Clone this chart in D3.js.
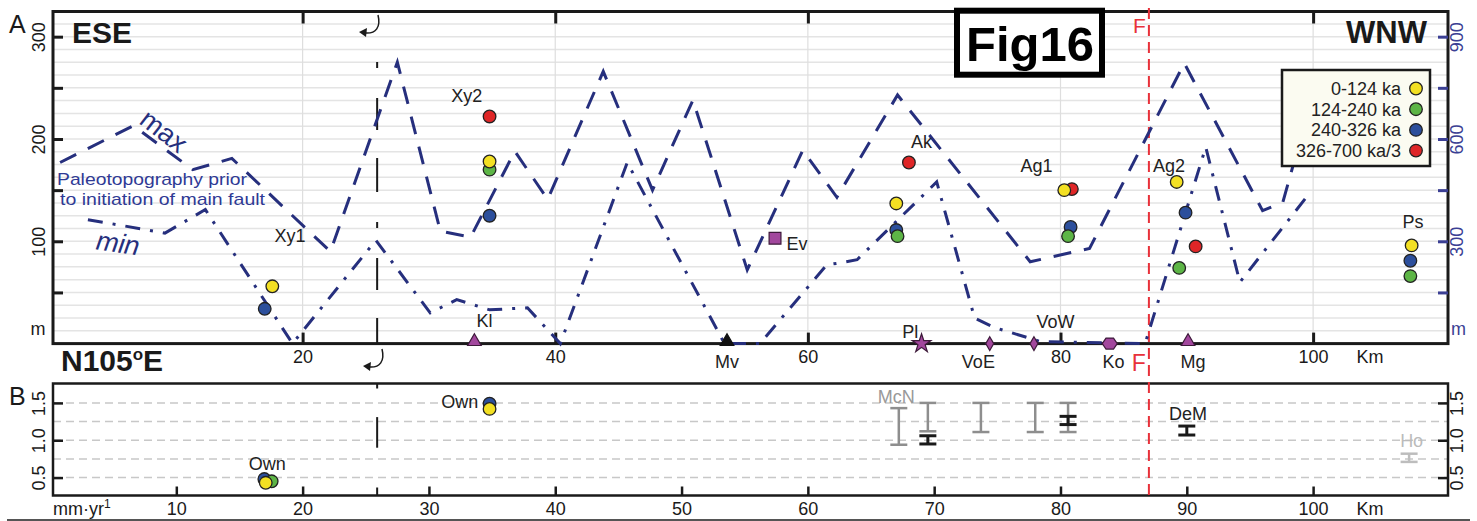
<!DOCTYPE html>
<html>
<head>
<meta charset="utf-8">
<script src="https://cdn.jsdelivr.net/npm/d3@7"></script>
<style>
  body { margin: 0; background: #fff; }
  text { font-family: "Liberation Sans", Arial, Helvetica, sans-serif; }
</style>
</head>
<body>
<div id="chart"></div>
<script>
// ---- data ----
// paleotopography envelopes (km along profile, elevation m)
var maxKm = [0.8, 6.6, 11.3, 14.4, 22.2, 27.5, 30.9, 33.3, 36.8, 39.4, 43.8, 47.7, 50.9, 55.2, 59.6, 62.3, 67.1, 77.6, 82.3, 89.8, 96.0, 97.6, 99.2];
var maxM  = [177, 213, 170, 181, 90, 275, 110, 104, 188, 141, 266, 150, 238, 72, 189, 143, 243, 80, 93, 274, 130, 138, 209];
var minKm = [3.0, 4.5, 9.1, 12.3, 19.2, 25.8, 30.1, 32.2, 34.8, 37.8, 40.4, 45.7, 53.4, 56.2, 61.5, 62.6, 63.9, 70.2, 73.2, 74.7, 78.4, 86.7, 91.5, 94.2, 99.4];
var minM  = [121, 118, 108, 131, 0, 101, 30, 43, 33, 35, 0, 177, 0, 0, 77, 79, 82, 158, 25, 16, 2, 0, 192, 60, 142];

// uplift of terraces (panel A)
var ageLabels = ["0-124 ka", "124-240 ka", "240-326 ka", "326-700 ka/3"];
var upliftKm  = [17.6, 17.0, 34.8, 34.8, 34.8, 34.8, 68.0, 67.0, 67.0, 67.1, 80.3, 80.9, 80.8, 80.6, 89.2, 89.9, 90.7, 89.4, 107.8, 107.7, 107.7];
var upliftM   = [56, 34, 222, 178, 170, 125, 177, 137, 111, 105, 150, 151, 114, 105, 158, 128, 95, 74, 96, 81, 66];
var upliftAge = [0, 2, 3, 0, 1, 2, 3, 0, 2, 1, 0, 3, 2, 1, 0, 2, 3, 1, 0, 2, 1];
var siteLabels = [["Xy1", 19.0, 99], ["Xy2", 33.0, 236], ["Ak", 69.0, 191], ["Ag1", 78.1, 168], ["Ag2", 88.6, 168], ["Ps", 107.9, 113]];

// localities on the profile
var locNames  = ["Kl", "Mv", "Pl", "VoE", "VoW", "Ko", "Mg", "Ev"];
var locKm     = [33.6, 53.6, 69.0, 74.4, 77.9, 83.9, 90.1, 57.4];
var locM      = [0, 0, 0, 0, 0, 0, 0, 103];
var locShape  = ["triangle", "triangle", "star", "diamond", "diamond", "hexagon", "triangle", "square"];
var locLabels = [["Kl", 34.4, 16], ["Mv", 53.6, -24], ["Pl", 68.1, 5], ["VoE", 73.5, -24], ["VoW", 79.6, 15], ["Ko", 84.2, -24], ["Mg", 90.5, -24]];

// slip rates (panel B, mm/yr)
var rateKm  = [16.97, 17.55, 17.08, 34.8, 34.8];
var rateVal = [0.48, 0.45, 0.43, 1.49, 1.42];
var rateAge = [2, 1, 0, 2, 0];
var barKm   = [67.2, 69.5, 69.5, 73.7, 78.0, 80.6, 80.6, 90.0, 107.6];
var barLo   = [0.94, 1.12, 0.95, 1.11, 1.11, 1.11, 1.21, 1.07, 0.71];
var barHi   = [1.43, 1.50, 1.06, 1.50, 1.50, 1.50, 1.32, 1.19, 0.82];
var barKind = ["McN", "McN", "own", "McN", "McN", "McN", "own", "DeM", "Ho"];
var rateLabels = [["Own", 17.2, 0.60, "middle", "#222"], ["Own", 33.9, 1.43, "end", "#222"], ["McN", 67.0, 1.50, "middle", "#999"], ["DeM", 90.1, 1.27, "middle", "#222"], ["Ho", 107.8, 0.91, "middle", "#bbb"]];

var faultKm = 87.0;
var hingeKm = 25.9;

// ---- setup ----
var W = 1477, H = 521;
var ageColors = ["#f3e023", "#5db546", "#2c4f9c", "#df2627"];
var navy = "#262f7d", axisBlue = "#3b3f94", magenta = "#a2479d";

var A = {left: 53, right: 1448, top: 11.5, bottom: 343.6};
var B = {top: 383.5, bottom: 495.5};

var svg = d3.select("#chart").append("svg")
    .attr("width", W)
    .attr("height", H);

var x  = d3.scaleLinear().domain([0, 110.6]).range([50, 1447]);
var yA = d3.scaleLinear().domain([0, 324.6]).range([A.bottom, A.top]);
var yR = d3.scaleLinear().domain([0, 324.6 * 3]).range([A.bottom, A.top]);
var yB = d3.scaleLinear().domain([0.26, 1.76]).range([B.bottom, B.top]);

// --- grid panel A ---
var grid = svg.append("g");
grid.selectAll(".hg").data(d3.range(12.5, 324, 12.5)).enter().append("line")
    .attr("x1", A.left).attr("x2", A.right)
    .attr("y1", d => yA(d)).attr("y2", d => yA(d))
    .attr("stroke", "#e4e4e4").attr("stroke-width", 1.5);
grid.selectAll(".vg").data([20, 40, 60, 80, 100]).enter().append("line")
    .attr("x1", d => x(d)).attr("x2", d => x(d))
    .attr("y1", A.top).attr("y2", A.bottom)
    .attr("stroke", "#dedede").attr("stroke-width", 1.2);

// --- grid panel B ---
grid.selectAll(".bg").data([0.5, 0.75, 1.0, 1.25, 1.5]).enter().append("line")
    .attr("x1", A.left).attr("x2", A.right)
    .attr("y1", d => yB(d)).attr("y2", d => yB(d))
    .attr("stroke", "#c8c8c8").attr("stroke-width", 1.5)
    .attr("stroke-dasharray", "8,5");

// --- frames ---
svg.append("rect").attr("x", A.left).attr("y", A.top)
    .attr("width", A.right - A.left).attr("height", A.bottom - A.top)
    .attr("fill", "none").attr("stroke", "#1a1a1a").attr("stroke-width", 3);
svg.append("rect").attr("x", A.left).attr("y", B.top)
    .attr("width", A.right - A.left).attr("height", B.bottom - B.top)
    .attr("fill", "none").attr("stroke", "#1a1a1a").attr("stroke-width", 2.5);

// --- axes ---
function styleAxis(g, color, w) {
    g.select(".domain").remove();
    g.selectAll("line").attr("stroke", color).attr("stroke-width", w);
    g.selectAll("text").attr("fill", color).attr("font-size", 18)
        .attr("font-family", "Liberation Sans, Arial, sans-serif");
}

var axTop = svg.append("g").attr("transform", "translate(0," + A.top + ")")
    .call(d3.axisTop(x).tickValues([20, 40, 60, 80, 100]).tickSizeInner(-12).tickSizeOuter(0).tickFormat(""));
styleAxis(axTop, "#1a1a1a", 3);

var axBot = svg.append("g").attr("transform", "translate(0," + A.bottom + ")")
    .call(d3.axisBottom(x).tickValues([20, 40, 60, 80, 100]).tickSizeInner(-11).tickSizeOuter(0));
styleAxis(axBot, "#1a1a1a", 3);
axBot.selectAll("text").attr("y", 19).attr("dy", 0);

var axLeft = svg.append("g").attr("transform", "translate(" + A.left + ",0)")
    .call(d3.axisLeft(yA).tickValues([50, 100, 150, 200, 250, 300]).tickSizeInner(-10).tickSizeOuter(0)
        .tickFormat(d => d % 100 === 0 ? d : ""));
styleAxis(axLeft, "#1a1a1a", 3);
axLeft.selectAll("text").attr("x", 0).attr("y", -8).attr("dy", 0)
    .attr("text-anchor", "middle").attr("transform", "rotate(-90)");

var axRight = svg.append("g").attr("transform", "translate(" + A.right + ",0)")
    .call(d3.axisRight(yR).tickValues([150, 300, 450, 600, 750, 900]).tickSizeInner(-10).tickSizeOuter(0)
        .tickFormat(d => d % 300 === 0 ? d : ""));
styleAxis(axRight, axisBlue, 3);
axRight.selectAll("text").attr("x", 0).attr("y", 15).attr("dy", 0)
    .attr("text-anchor", "middle").attr("transform", "rotate(-90)");

svg.append("text").attr("x", 38).attr("y", 335).attr("text-anchor", "middle")
    .attr("font-size", 18).attr("fill", "#1a1a1a").text("m");
svg.append("text").attr("x", 1451).attr("y", 335)
    .attr("font-size", 18).attr("fill", axisBlue).text("m");
svg.append("text").attr("x", x(104.5)).attr("y", A.bottom + 19).attr("text-anchor", "middle")
    .attr("font-size", 18).attr("fill", "#1a1a1a").text("Km");

// panel B axes
var bBot = svg.append("g").attr("transform", "translate(0," + B.bottom + ")")
    .call(d3.axisBottom(x).tickValues(d3.range(10, 101, 10)).tickSizeInner(-9).tickSizeOuter(0));
styleAxis(bBot, "#1a1a1a", 2.5);
bBot.selectAll("text").attr("y", 19.5).attr("dy", 0);

var bLeft = svg.append("g").attr("transform", "translate(" + A.left + ",0)")
    .call(d3.axisLeft(yB).tickValues([0.5, 1.0, 1.5]).tickSizeInner(-10).tickSizeOuter(0).tickFormat(d3.format(".1f")));
styleAxis(bLeft, "#1a1a1a", 2.5);
bLeft.selectAll("text").attr("x", 0).attr("y", -8).attr("dy", 0)
    .attr("text-anchor", "middle").attr("transform", "rotate(-90)");

var bRight = svg.append("g").attr("transform", "translate(" + A.right + ",0)")
    .call(d3.axisRight(yB).tickValues([0.5, 1.0, 1.5]).tickSizeInner(-10).tickSizeOuter(0).tickFormat(d3.format(".1f")));
styleAxis(bRight, "#1a1a1a", 2.5);
bRight.selectAll("text").attr("x", 0).attr("y", 15).attr("dy", 0)
    .attr("text-anchor", "middle").attr("transform", "rotate(-90)");

var mm = svg.append("text").attr("x", 53).attr("y", 515).attr("font-size", 18).attr("fill", "#1a1a1a");
mm.append("tspan").text("mm\u00b7yr");
mm.append("tspan").attr("dy", -7).attr("font-size", 12).text("1");
svg.append("text").attr("x", x(104.5)).attr("y", 515).attr("text-anchor", "middle")
    .attr("font-size", 18).attr("fill", "#1a1a1a").text("Km");

// --- hinge line (26 km) ---
svg.append("line").attr("x1", x(hingeKm)).attr("x2", x(hingeKm))
    .attr("y1", 62).attr("y2", A.bottom)
    .attr("stroke", "#1a1a1a").attr("stroke-width", 2)
    .attr("stroke-dasharray", "6,30,32,28,34,30");
svg.append("line").attr("x1", x(hingeKm)).attr("x2", x(hingeKm))
    .attr("y1", yB(1.31)).attr("y2", yB(0.9))
    .attr("stroke", "#1a1a1a").attr("stroke-width", 2);
svg.append("line").attr("x1", x(hingeKm)).attr("x2", x(hingeKm))
    .attr("y1", B.top).attr("y2", B.top + 5)
    .attr("stroke", "#1a1a1a").attr("stroke-width", 2);
svg.append("line").attr("x1", x(hingeKm)).attr("x2", x(hingeKm))
    .attr("y1", B.bottom - 8).attr("y2", B.bottom)
    .attr("stroke", "#1a1a1a").attr("stroke-width", 2);

function curlArrow(x0, y0) {
    svg.append("path")
        .attr("d", "M" + x0 + "," + y0 + " C" + (x0 + 3) + "," + (y0 + 12) + " " + (x0 - 2) + "," + (y0 + 19) + " " + (x0 - 13) + "," + (y0 + 18))
        .attr("fill", "none").attr("stroke", "#1a1a1a").attr("stroke-width", 1.5);
    svg.append("path")
        .attr("d", "M" + (x0 - 19) + "," + (y0 + 17) + " L" + (x0 - 11) + "," + (y0 + 13) + " L" + (x0 - 12) + "," + (y0 + 22) + " Z")
        .attr("fill", "#1a1a1a");
}
curlArrow(378, 15);
curlArrow(382, 349);

// --- fault line F ---
svg.append("line").attr("x1", x(faultKm)).attr("x2", x(faultKm))
    .attr("y1", 8).attr("y2", B.bottom)
    .attr("stroke", "#e8313a").attr("stroke-width", 2).attr("stroke-dasharray", "11,6");
svg.append("text").attr("x", x(faultKm) - 3).attr("y", 33).attr("text-anchor", "end")
    .attr("font-size", 21).attr("fill", "#e8313a").text("F");
svg.append("text").attr("x", x(faultKm) - 3).attr("y", 371).attr("text-anchor", "end")
    .attr("font-size", 23).attr("fill", "#e8313a").text("F");

// --- paleotopography envelopes ---
var line = d3.line().x(d => x(d[0])).y(d => yA(d[1]));
svg.append("path").datum(d3.zip(maxKm, maxM))
    .attr("d", line).attr("fill", "none").attr("stroke", navy)
    .attr("stroke-width", 3).attr("stroke-dasharray", "18,13");
svg.append("path").datum(d3.zip(minKm, minM))
    .attr("d", line).attr("fill", "none").attr("stroke", navy)
    .attr("stroke-width", 3).attr("stroke-dasharray", "15,10,3,10");

svg.append("text").attr("transform", "translate(164,131) rotate(38)")
    .attr("text-anchor", "middle").attr("dy", "0.35em")
    .attr("font-size", 27).attr("fill", navy).text("max");
svg.append("text").attr("transform", "translate(118,243) rotate(8)")
    .attr("text-anchor", "middle").attr("dy", "0.35em").attr("font-style", "italic")
    .attr("font-size", 27).attr("fill", navy).text("min");
svg.append("text").attr("x", 57).attr("y", 185)
    .attr("font-size", 17).attr("textLength", 190).attr("lengthAdjust", "spacingAndGlyphs")
    .attr("fill", "#2f3a95").text("Paleotopography prior");
svg.append("text").attr("x", 60).attr("y", 205)
    .attr("font-size", 17).attr("textLength", 205).attr("lengthAdjust", "spacingAndGlyphs")
    .attr("fill", "#2f3a95").text("to initiation of main fault");

// --- locality markers ---
function hexPath(r) {
    return d3.range(6).map(function(i) {
        var a = i * Math.PI / 3;
        return (i ? "L" : "M") + (r * Math.cos(a)).toFixed(2) + "," + (r * Math.sin(a) * 0.85).toFixed(2);
    }).join("") + "Z";
}
var symMap = {
    triangle: d3.symbol().type(d3.symbolTriangle).size(80)(),
    star: d3.symbol().type(d3.symbolStar).size(110)(),
    diamond: d3.symbol().type(d3.symbolDiamond).size(55)(),
    square: d3.symbol().type(d3.symbolSquare).size(140)(),
    hexagon: hexPath(7.5)
};
svg.selectAll(".loc").data(d3.range(locNames.length)).enter().append("path")
    .attr("transform", i => "translate(" + x(locKm[i]) + "," + (yA(locM[i]) - (locShape[i] === "triangle" ? 2 : 0)) + ")")
    .attr("d", i => symMap[locShape[i]])
    .attr("fill", i => locNames[i] === "Mv" ? "#111" : magenta)
    .attr("stroke", i => locNames[i] === "Mv" ? "#111" : "#3d1a3a")
    .attr("stroke-width", 1.2);

svg.selectAll(".locl").data(locLabels).enter().append("text")
    .attr("x", d => x(d[1])).attr("y", d => yA(d[2]))
    .attr("text-anchor", "middle").attr("font-size", 18).attr("fill", "#222")
    .text(d => d[0]);
svg.append("text").attr("x", x(58.3)).attr("y", yA(91))
    .attr("font-size", 18).attr("fill", "#222").text("Ev");

// --- terrace uplift points ---
var order = d3.range(upliftKm.length).sort((a, b) => upliftAge[b] - upliftAge[a]);
svg.selectAll(".up").data(order).enter().append("circle")
    .attr("cx", i => x(upliftKm[i])).attr("cy", i => yA(upliftM[i]))
    .attr("r", 6.3)
    .attr("fill", i => ageColors[upliftAge[i]])
    .attr("stroke", "#222").attr("stroke-width", 1.3);
svg.selectAll(".sl").data(siteLabels).enter().append("text")
    .attr("x", d => x(d[1])).attr("y", d => yA(d[2]))
    .attr("text-anchor", "middle").attr("font-size", 18).attr("fill", "#222")
    .text(d => d[0]);

// --- panel B: error bars ---
var barColor = {McN: "#8e8e8e", own: "#1a1a1a", DeM: "#1a1a1a", Ho: "#bdbdbd"};
var barW = {McN: 2.5, own: 3, DeM: 3, Ho: 2.5};
var bars = svg.selectAll(".eb").data(d3.range(barKm.length)).enter().append("g");
bars.append("line")
    .attr("x1", i => x(barKm[i])).attr("x2", i => x(barKm[i]))
    .attr("y1", i => yB(barLo[i])).attr("y2", i => yB(barHi[i]))
    .attr("stroke", i => barColor[barKind[i]]).attr("stroke-width", i => barW[barKind[i]]);
bars.append("line")
    .attr("x1", i => x(barKm[i]) - 8.5).attr("x2", i => x(barKm[i]) + 8.5)
    .attr("y1", i => yB(barLo[i])).attr("y2", i => yB(barLo[i]))
    .attr("stroke", i => barColor[barKind[i]]).attr("stroke-width", i => barW[barKind[i]]);
bars.append("line")
    .attr("x1", i => x(barKm[i]) - 8.5).attr("x2", i => x(barKm[i]) + 8.5)
    .attr("y1", i => yB(barHi[i])).attr("y2", i => yB(barHi[i]))
    .attr("stroke", i => barColor[barKind[i]]).attr("stroke-width", i => barW[barKind[i]]);

var rOrder = d3.range(rateKm.length).sort((a, b) => rateAge[b] - rateAge[a]);
svg.selectAll(".rp").data(rOrder).enter().append("circle")
    .attr("cx", i => x(rateKm[i])).attr("cy", i => yB(rateVal[i]))
    .attr("r", 6.3)
    .attr("fill", i => ageColors[rateAge[i]])
    .attr("stroke", "#222").attr("stroke-width", 1.3);
svg.selectAll(".rl").data(rateLabels).enter().append("text")
    .attr("x", d => x(d[1])).attr("y", d => yB(d[2]))
    .attr("text-anchor", d => d[3]).attr("font-size", 18).attr("fill", d => d[4])
    .text(d => d[0]);

// --- legend ---
var lg = svg.append("g");
lg.append("rect").attr("x", 1282).attr("y", 70).attr("width", 148).attr("height", 96)
    .attr("fill", "#fbfbf1").attr("stroke", "#1a1a1a").attr("stroke-width", 2.5);
ageLabels.forEach(function(lab, i) {
    var yy = 88.5 + i * 20.7;
    lg.append("text").attr("x", 1401).attr("y", yy).attr("dy", "0.35em")
        .attr("text-anchor", "end").attr("font-size", 18).attr("fill", "#222").text(lab);
    lg.append("circle").attr("cx", 1416).attr("cy", yy).attr("r", 6.3)
        .attr("fill", ageColors[i]).attr("stroke", "#222").attr("stroke-width", 1.3);
});

// --- titles ---
svg.append("text").attr("x", 9).attr("y", 33).attr("font-size", 25).attr("fill", "#1a1a1a").text("A");
svg.append("text").attr("x", 9).attr("y", 405).attr("font-size", 25).attr("fill", "#1a1a1a").text("B");
svg.append("text").attr("x", 72).attr("y", 43).attr("font-size", 30).attr("font-weight", "bold")
    .attr("fill", "#1a1a1a").text("ESE");
svg.append("text").attr("x", 1427).attr("y", 43).attr("font-size", 31).attr("font-weight", "bold")
    .attr("text-anchor", "end").attr("fill", "#1a1a1a").text("WNW");
var nt = svg.append("text").attr("x", 61).attr("y", 371).attr("font-size", 30).attr("font-weight", "bold")
    .attr("fill", "#1a1a1a");
nt.append("tspan").text("N105");
nt.append("tspan").attr("dy", -11).attr("font-size", 17).text("o");
nt.append("tspan").attr("dy", 11).text("E");

svg.append("rect").attr("x", 957).attr("y", 10.7).attr("width", 145).attr("height", 64)
    .attr("fill", "#fff").attr("stroke", "#000").attr("stroke-width", 6);
svg.append("text").attr("x", 1030).attr("y", 61).attr("text-anchor", "middle")
    .attr("font-size", 49).attr("font-weight", "bold").attr("fill", "#000").text("Fig16");

// bottom rule
svg.append("line").attr("x1", 7).attr("x2", 1470).attr("y1", 520).attr("y2", 520)
    .attr("stroke", "#555").attr("stroke-width", 2);
</script>
</body>
</html>
